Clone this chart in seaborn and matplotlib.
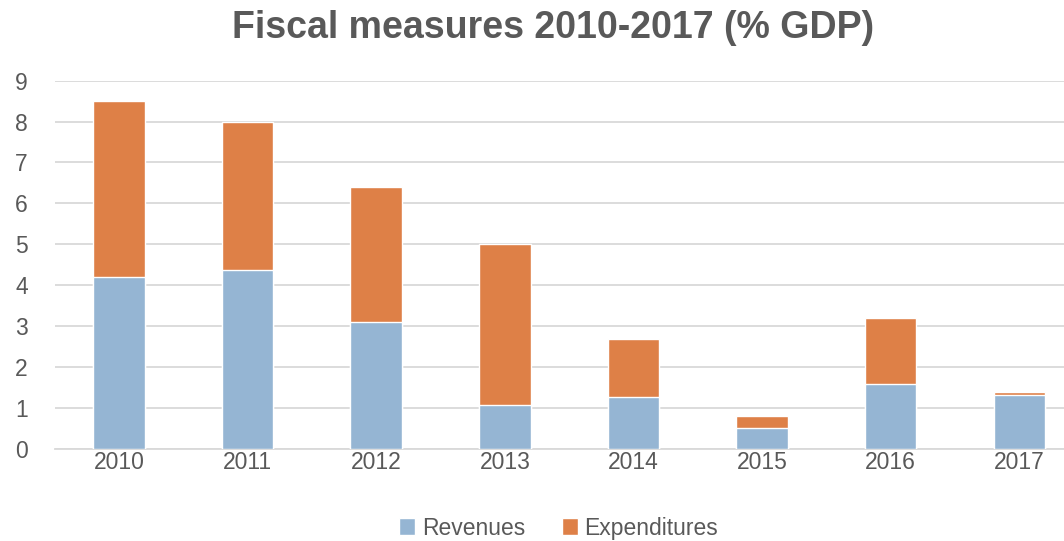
import matplotlib
matplotlib.use("Agg")
import matplotlib.pyplot as plt
from matplotlib.patches import Patch
import seaborn as sns
import pandas as pd

years = ["2010", "2011", "2012", "2013", "2014", "2015", "2016", "2017"]
revenues = [4.2, 4.37, 3.1, 1.08, 1.26, 0.52, 1.6, 1.31]
expenditures = [4.3, 3.63, 3.3, 3.92, 1.44, 0.28, 1.6, 0.08]
y_ticks = [0, 1, 2, 3, 4, 5, 6, 7, 8, 9]

BLUE = "#95B5D3"
ORANGE = "#DE8047"
TEXT = "#595959"
GRID = "#D9D9D9"

sns.set_theme(style="white")
plt.rcParams["font.family"] = ["Liberation Sans", "DejaVu Sans"]

df = pd.DataFrame({"year": years, "rev": revenues, "exp": expenditures})
df["total"] = df["rev"] + df["exp"]

fig = plt.figure(figsize=(10.64, 5.41), dpi=100)
ax = fig.add_axes([0.0514, 0.170, 0.967, 0.681])

# stacked bars: full height in orange, revenue share drawn over it in blue
sns.barplot(data=df, x="year", y="total", color=ORANGE, width=0.40,
            saturation=1, ax=ax, zorder=3)
sns.barplot(data=df, x="year", y="rev", color=BLUE, width=0.40,
            saturation=1, ax=ax, zorder=4)

ax.set_ylim(0, 9)
ax.set_yticks(y_ticks)
ax.set_xlim(-0.5, len(years) - 0.5)
ax.yaxis.grid(True, color=GRID, linewidth=1.3, zorder=0)
ax.set_axisbelow(True)
for side in ["top", "right", "left"]:
    ax.spines[side].set_visible(False)
ax.spines["bottom"].set_color(GRID)
ax.spines["bottom"].set_linewidth(1.3)
ax.set_xlabel("")
ax.set_ylabel("")
ax.tick_params(axis="both", length=0, labelsize=16.5, labelcolor=TEXT)
ax.tick_params(axis="x", pad=1.5)
ax.tick_params(axis="y", pad=24)
for lbl in ax.get_yticklabels():
    lbl.set_horizontalalignment("center")

fig.text(0.52, 0.948, "Fiscal measures 2010-2017 (% GDP)", ha="center",
         va="center", fontsize=27, fontweight="bold", color=TEXT)

handles = [Patch(facecolor=BLUE, label="Revenues"),
           Patch(facecolor=ORANGE, label="Expenditures")]
fig.legend(handles=handles, loc="center", bbox_to_anchor=(0.525, 0.024),
           ncol=2, frameon=False, fontsize=16.5, labelcolor=TEXT,
           handlelength=0.7, handleheight=0.7, handletextpad=0.3,
           columnspacing=1.6)

fig.savefig("out.png", dpi=100)
